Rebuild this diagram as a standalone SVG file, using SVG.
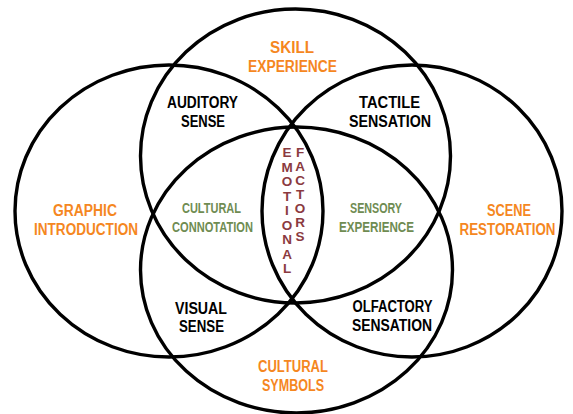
<svg xmlns="http://www.w3.org/2000/svg" width="573" height="414" viewBox="0 0 573 414">
<style>
.c{fill:none;stroke:#000;stroke-width:3.4}
.t{font-family:"Liberation Sans",Arial,sans-serif;font-weight:bold;text-anchor:middle}
.o{fill:#f5871f;font-size:16px}
.k{fill:#000;font-size:16px}
.g{fill:#6f8c52;font-size:14px}
.v{fill:#8b3a3f;font-size:13.5px}
</style>
<rect width="573" height="414" fill="#fff"/>
<g id="circles">
<ellipse id="circle-left" class="c" cx="169" cy="211" rx="154" ry="146"/>
<ellipse id="circle-right" class="c" cx="412" cy="211" rx="150" ry="146"/>
<ellipse id="circle-top" class="c" cx="295.5" cy="156" rx="155" ry="147"/>
<ellipse id="circle-bottom" class="c" cx="296.5" cy="270" rx="156" ry="143"/>
</g>
<g id="skill" class="t o">
<text x="292" y="53" textLength="44" lengthAdjust="spacingAndGlyphs">SKILL</text>
<text x="292.5" y="72" textLength="89" lengthAdjust="spacingAndGlyphs">EXPERIENCE</text>
</g>
<g id="graphic" class="t o">
<text x="85" y="216" textLength="64" lengthAdjust="spacingAndGlyphs">GRAPHIC</text>
<text x="86" y="235" textLength="104" lengthAdjust="spacingAndGlyphs">INTRODUCTION</text>
</g>
<g id="scene" class="t o">
<text x="509" y="216" textLength="44" lengthAdjust="spacingAndGlyphs">SCENE</text>
<text x="507.5" y="235" textLength="96" lengthAdjust="spacingAndGlyphs">RESTORATION</text>
</g>
<g id="cultural-symbols" class="t o">
<text x="293" y="372" textLength="70" lengthAdjust="spacingAndGlyphs">CULTURAL</text>
<text x="293" y="391" textLength="62" lengthAdjust="spacingAndGlyphs">SYMBOLS</text>
</g>
<g id="auditory" class="t k">
<text x="202.5" y="108" textLength="71" lengthAdjust="spacingAndGlyphs">AUDITORY</text>
<text x="203" y="127" textLength="44" lengthAdjust="spacingAndGlyphs">SENSE</text>
</g>
<g id="tactile" class="t k">
<text x="389.5" y="108" textLength="61" lengthAdjust="spacingAndGlyphs">TACTILE</text>
<text x="390" y="127" textLength="82" lengthAdjust="spacingAndGlyphs">SENSATION</text>
</g>
<g id="visual" class="t k">
<text x="201" y="314" textLength="52" lengthAdjust="spacingAndGlyphs">VISUAL</text>
<text x="201.5" y="332" textLength="45" lengthAdjust="spacingAndGlyphs">SENSE</text>
</g>
<g id="olfactory" class="t k">
<text x="392.5" y="312" textLength="80" lengthAdjust="spacingAndGlyphs">OLFACTORY</text>
<text x="392" y="331" textLength="80" lengthAdjust="spacingAndGlyphs">SENSATION</text>
</g>
<g id="cultural-connotation" class="t g">
<text x="211.5" y="213" textLength="59" lengthAdjust="spacingAndGlyphs">CULTURAL</text>
<text x="212.5" y="232" textLength="81" lengthAdjust="spacingAndGlyphs">CONNOTATION</text>
</g>
<g id="sensory-experience" class="t g">
<text x="376" y="213" textLength="52" lengthAdjust="spacingAndGlyphs">SENSORY</text>
<text x="376.5" y="232" textLength="75" lengthAdjust="spacingAndGlyphs">EXPERIENCE</text>
</g>
<g id="emotional-factors" class="t v">
<text x="287" y="157">E</text>
<text x="287" y="171.5">M</text>
<text x="287" y="186">O</text>
<text x="287" y="200.5">T</text>
<text x="287" y="215">I</text>
<text x="287" y="229.5">O</text>
<text x="287" y="244">N</text>
<text x="287" y="258.5">A</text>
<text x="287" y="273">L</text>
<text x="300" y="157">F</text>
<text x="300" y="171">A</text>
<text x="300" y="185">C</text>
<text x="300" y="199">T</text>
<text x="300" y="213">O</text>
<text x="300" y="227">R</text>
<text x="300" y="241">S</text>
</g>
</svg>
